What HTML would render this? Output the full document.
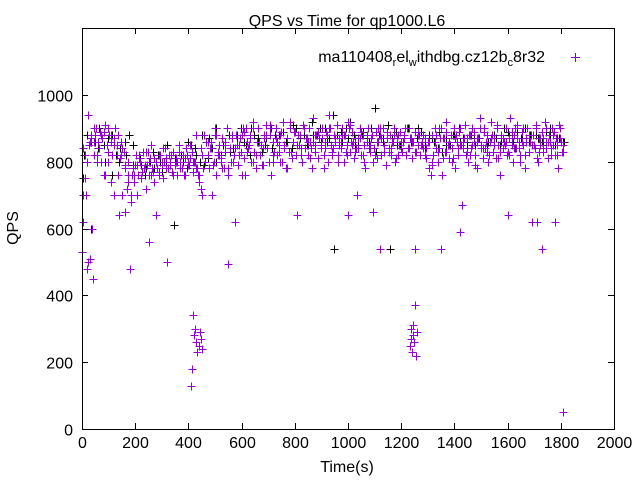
<!DOCTYPE html>
<html><head><meta charset="utf-8"><style>
body{margin:0;background:#fff;}
svg{display:block;font-family:"Liberation Sans",sans-serif;}
</style></head><body>
<svg id="c" width="640" height="480">
<text x="347" y="26" text-anchor="middle" font-size="16">QPS vs Time for qp1000.L6</text>
<text x="18" y="228" text-anchor="middle" font-size="16" transform="rotate(-90 18 228)">QPS</text>
<text x="347" y="472" text-anchor="middle" font-size="16">Time(s)</text>
<g>
<text x="545" y="62" text-anchor="end" font-size="16">ma110408<tspan font-size="11" dy="4">r</tspan><tspan dy="-4">el</tspan><tspan font-size="11" dy="4">w</tspan><tspan dy="-4">ithdbg.cz12b</tspan><tspan font-size="11" dy="4">c</tspan><tspan dy="-4">8r32</tspan></text>
<path d="M571 57.5h9M575.5 53v9" stroke="#9400d3" stroke-width="1"/>
</g>
<g id="axes"></g>
<g id="marks"></g>
<rect x="82.5" y="28.5" width="532" height="401" fill="none" stroke="#000"/>
</svg>
<script>
const xTicks=[0,200,400,600,800,1000,1200,1400,1600,1800,2000];
const yTicks=[0,200,400,600,800,1000];
const purpleMain=[530,620,750,700,500,850,870,600,820,880,900,860,840,800,870,890,910,850,830,880,860,820,870,900,850,880,810,860,840,830,
650,720,760,480,700,780,740,820,700,760,800,750,830,780,720,790,760,810,850,770,740,800,780,760,820,790,750,800,780,500,
820,800,770,830,790,810,760,850,800,780,820,760,840,800,790,810,830,770,800,780,
760,740,720,700,780,800,
860,820,780,840,700,800,880,760,820,850,810,870,780,830,900,760,840,800,880,820,
620,850,790,870,830,900,810,760,860,840,880,800,920,830,780,860,900,820,850,790,
870,910,840,800,880,760,860,830,900,820,850,880,800,920,840,780,870,830,900,810,
860,890,820,640,850,880,800,910,840,870,820,900,860,780,930,850,880,810,870,840,
900,820,860,890,800,940,850,830,880,860,910,820,870,840,900,800,880,850,920,830,
860,890,810,870,700,840,900,820,880,850,780,860,900,830,870,650,840,890,810,860,
880,820,900,850,790,870,840,880,820,860,900,810,870,850,890,830,860,880,820,900,
840,870,810,860,890,830,850,880,820,860,840,870,810,860,
780,760,800,
820,860,880,800,840,900,760,870,830,920,850,810,880,840,900,780,860,820,890,850,
670,870,910,830,800,880,840,900,860,820,780,870,930,850,810,890,840,880,800,860,
920,830,870,810,900,850,760,880,840,860,900,820,870,930,850,800,880,840,910,860,
820,890,850,780,870,900,830,860,620,880,840,910,800,870,850,890,830,920,860,810,
880,840,900,850,820,870,780,910,860,830];
const purple2=[700,820,940,880,860,800,890,870,760,900,880,850,820,640,700,790,740,680,760,790,820,770,790,830,760,810,640,770,800,840,
780,820,760,800,830,780,810,790,850,800,880,760,820,800,860,840,790,880,820,780,860,900,840,800,880,850,760,890,830,870,
900,820,860,790,880,840,910,800,870,830,890,850,780,920,860,820,880,840,900,870,810,860,830,890,850,780,880,900,840,870,
800,860,880,820,910,850,830,870,890,800,860,840,880,820,900,870,850,890,830,860,800,880,840,870,820,900,860,830,880,850,
880,840,860,790,900,830,870,810,890,850,800,870,840,900,860,820,880,850,790,870,900,840,860,820,880,850,910,830,870,860,
820,890,840,870,800,900,860,830,880,850,810,870,840,900,860,820,890,850,870,830];
const purple3=[840,800,860,900,820,880,760,800,740,700,760,820,780,800,760,790,810,770,830,800,780,800,820,840,810,790,830,800,780,760,
820,850,800,780,840,880,820,860,900,830,800,850,780,870,840,820,880,900,850,800,820,860,840,880,900,820,860,800,840,870,
830,890,850,820,900,860,840,880,810,870,840,900,820,860,850,880,830,900,860,840,870,820,880,850,800,860,900,830,870,840,
880,820,860,900,840,870,830,890,850,820,860,880,840,900,870,830,860,810,880,850,840,870,820,890,860,840,900,830,870,850,
810,880,850,830,870,900,840,860,820,880,850,900,830,870,840,860,880,820,900,850];
const blackMain=[750,880,600,860,900,850,870,880,820,840,860,880,850,700,790,760,800,780,820,770,800,790,810,830,800,780,850,820,800,790,
810,840,800,820,860,880,840,870,900,850,820,880,860,830,870,900,880,850,890,860,840,900,870,880,850,920,880,860,900,870,
940,880,860,900,920,880,850,890,870,900,960,880,860,910,870,890,850,880,900,860,870,890,850,880,860,840,830,870,850,880,
900,870,860,880,850,870,890,860,880,870,850,900,880,860,890,870,900,880,850,870,860,890,880,850,870,860];
const black2=[820,860,840,800,760,800,820,790,810,780,830,800,850,610,820,860,840,880,870,900,850,830,880,860,900,870,850,840,880,860,
910,870,850,880,900,860,540,890,870,850,880,860,830,870,540,850,880,860,900,840,870,890,850,880,860,840,870,900,850,880,
860,890,840,870,860,880,850,900,870,860];
const dipTimes=[410,414,418,422,426,430,434,438,442,446,450,1232,1236,1240,1244,1248,1252,1256,1260,1246,1238];
const dipValues=[130,180,340,280,300,260,230,250,290,270,240,250,300,230,280,260,370,220,290,310,270];
const outTimes=[1810,40,30,20,250,550,1120,1250,1350,1420,1730,1710,1600,1780,1000];
const outValues=[50,450,510,480,560,495,540,540,540,590,540,620,640,620,640];
const X=t=>82+t*0.266, Y=v=>429-v*0.334;
const ns="http://www.w3.org/2000/svg";
const ax=document.getElementById('axes'), mk=document.getElementById('marks');
function add(p,tag,attrs){const e=document.createElementNS(ns,tag);for(const k in attrs)e.setAttribute(k,attrs[k]);p.appendChild(e);return e;}
xTicks.forEach(t=>{const x=Math.round(X(t))+0.5;
 const l=add(ax,'path',{d:`M${x} 429v-6M${x} 28v6`,stroke:'#000'});
 
 
 const tx=add(ax,'text',{x:x,y:448,'text-anchor':'middle','font-size':16});tx.textContent=t;
 
 });
yTicks.forEach(v=>{const y=Math.round(Y(v))+0.5;
 const l=add(ax,'path',{d:`M82 ${y}h6M614 ${y}h-6`,stroke:'#000'});
 
 
 const tx=add(ax,'text',{x:73,y:y+6,'text-anchor':'end','font-size':16});tx.textContent=v;
 
 });
function pt(t,v,c,name){const x=Math.round(X(t))+0.5,y=Math.round(Y(v))+0.5;
 const p=add(mk,'path',{d:`M${x-4} ${y}h8M${x} ${y-4}v8`,stroke:c,'stroke-width':1});
 
 }
function series(arr,off,c,name){const s=1805/(arr.length-1);arr.forEach((v,i)=>pt(i*s+off,v,c,name));}
series(blackMain,3,'#000','black-point');
series(black2,7,'#000','black-point');
series(purpleMain,0,'#9400d3','purple-point');
series(purple2,2,'#9400d3','purple-point');
series(purple3,5,'#9400d3','purple-point');
dipTimes.forEach((t,i)=>pt(t,dipValues[i],'#9400d3','purple-point'));
outTimes.forEach((t,i)=>pt(t,outValues[i],'#9400d3','purple-point'));
</script>
</body></html>
